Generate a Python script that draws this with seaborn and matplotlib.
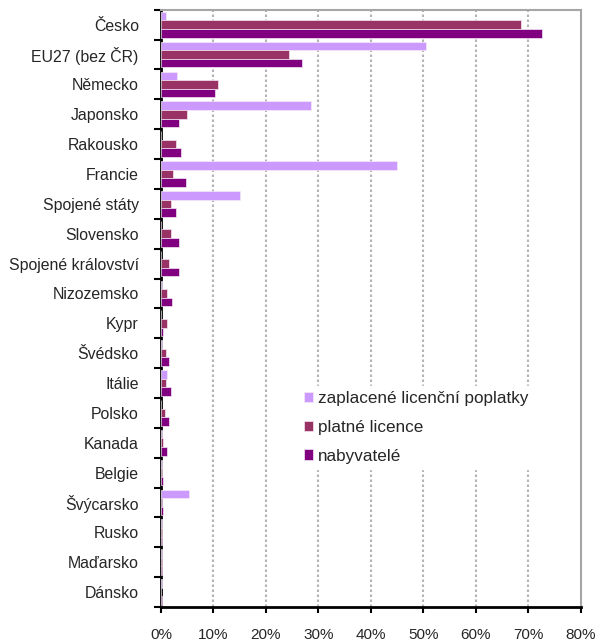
import matplotlib
matplotlib.use("Agg")
import matplotlib.pyplot as plt
import numpy as np
import pandas as pd
import seaborn as sns
from matplotlib.ticker import FixedLocator, FuncFormatter

# values in percent
countries = ['Česko', 'EU27 (bez ČR)', 'Německo', 'Japonsko', 'Rakousko',
             'Francie', 'Spojené státy', 'Slovensko', 'Spojené království',
             'Nizozemsko', 'Kypr', 'Švédsko', 'Itálie', 'Polsko', 'Kanada',
             'Belgie', 'Švýcarsko', 'Rusko', 'Maďarsko', 'Dánsko']
zaplacene = [1.0, 50.5, 3.0, 28.6, 0.1, 45.0, 15.0, 0.0, 0.1, 0.2,
             0.0, 0.2, 1.1, 0.1, 0.2, 0.2, 5.4, 0.2, 0.2, 0.2]
platne = [68.5, 24.3, 10.9, 4.9, 2.9, 2.3, 1.9, 2.0, 1.6, 1.1,
          1.1, 0.9, 0.9, 0.7, 0.3, 0.2, 0.2, 0.2, 0.2, 0.1]
nabyvatele = [72.5, 26.9, 10.2, 3.4, 3.9, 4.8, 2.9, 3.4, 3.4, 2.1,
              0.3, 1.6, 2.0, 1.6, 1.1, 0.3, 0.3, 0.2, 0.2, 0.2]
series = ['zaplacené licenční poplatky', 'platné licence', 'nabyvatelé']
colors = ['#CC99FF', '#993366', '#800080']
x_ticks = [0, 10, 20, 30, 40, 50, 60, 70, 80]

df = pd.DataFrame({
    'zeme': countries * 3,
    'serie': [series[0]] * len(countries) + [series[1]] * len(countries) + [series[2]] * len(countries),
    'hodnota': zaplacene + platne + nabyvatele,
})

sns.set_style("white")
plt.rcParams['font.family'] = ['Liberation Sans', 'DejaVu Sans']

fig = plt.figure(figsize=(6.02, 6.43), dpi=100)
ax = fig.add_axes([0.2674, 0.056, 0.6977, 0.9288])

sns.barplot(data=df, y='zeme', x='hodnota', hue='serie', hue_order=series,
            order=countries, palette=colors, saturation=1, orient='h',
            width=0.86, edgecolor='#F4E8F4', linewidth=0.5, ax=ax, zorder=3)

ax.set_xlim(0, 80)
ax.set_ylim(len(countries) - 0.5, -0.5)
ax.set_xlabel('')
ax.set_ylabel('')

# gridlines
for x in x_ticks[1:-1]:
    ax.axvline(x, color='#B4B4B4', lw=1.5, ls=(0, (1.2, 1.2)), zorder=1)

ax.xaxis.set_major_locator(FixedLocator(x_ticks))
ax.xaxis.set_major_formatter(FuncFormatter(lambda v, p: f'{v:.0f}%'))
ax.tick_params(axis='x', length=4, width=1.5, color='black', pad=11,
               labelsize=11, bottom=True, direction='out')
ax.tick_params(axis='y', which='major', length=0, pad=16, labelsize=11.4)
ax.yaxis.set_minor_locator(FixedLocator(np.arange(-0.5, len(countries), 1.0)))
ax.tick_params(axis='y', which='minor', length=5, width=1.5, color='black',
               left=True, direction='out')

for side in ['top', 'right']:
    ax.spines[side].set_color('#A6A6A6')
    ax.spines[side].set_linewidth(1.5)
for side in ['left', 'bottom']:
    ax.spines[side].set_color('black')
    ax.spines[side].set_linewidth(2)

leg = ax.legend(loc='upper left', bbox_to_anchor=(0.308, 0.384), frameon=True,
                fontsize=12.3, handlelength=0.55, handleheight=0.55,
                handletextpad=0.25, labelspacing=0.8, borderpad=0.3)
leg.get_frame().set_edgecolor('white')
leg.get_frame().set_facecolor('white')
leg.get_frame().set_alpha(1)
leg.get_frame().set_boxstyle('square', pad=0)
leg.set_zorder(5)

fig.savefig('out.png', dpi=100)
